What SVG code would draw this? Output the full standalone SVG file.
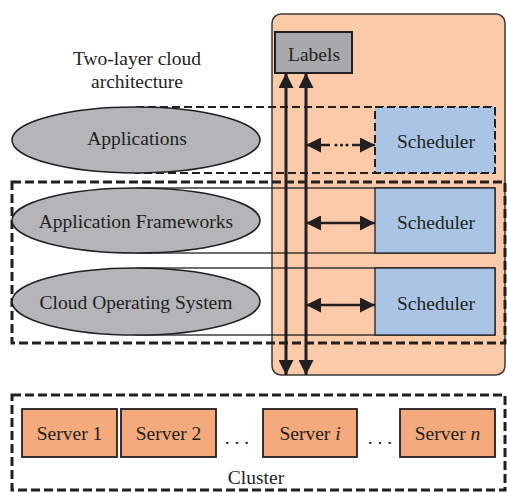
<svg xmlns="http://www.w3.org/2000/svg" width="507" height="493" viewBox="0 0 507 493">
<style>
text{font-family:"Liberation Serif","Times New Roman",serif;font-size:19.5px;fill:#231f20;text-anchor:middle}
.ell{fill:#b4b5b8;stroke:#231f20;stroke-width:1.5}
.row{fill:none;stroke:#231f20;stroke-width:1.3}
.sch{fill:#a9c4e5;stroke:#231f20;stroke-width:1.3}
.srv{fill:#f4aa7d;stroke:#231f20;stroke-width:1.8}
.dash{fill:none;stroke:#231f20;stroke-width:3;stroke-dasharray:9 4}
.dashthin{fill:none;stroke:#231f20;stroke-width:2;stroke-dasharray:8 4}
.arr{stroke:#231f20;stroke-width:3;fill:none}
.harr{stroke:#231f20;stroke-width:2.5;fill:none}
</style>
<defs>
<marker id="vh" viewBox="0 0 10 10" refX="10" refY="5" markerUnits="userSpaceOnUse" markerWidth="26" markerHeight="15" orient="auto-start-reverse">
<path d="M0,0 L10,5 L0,10 z" fill="#231f20"/>
</marker>
<marker id="hh" viewBox="0 0 10 10" refX="10" refY="5" markerUnits="userSpaceOnUse" markerWidth="22" markerHeight="15" orient="auto-start-reverse">
<path d="M0,0 L10,5 L0,10 z" fill="#231f20"/>
</marker>
</defs>
<g id="label-panel">
<rect x="272" y="14" width="233" height="361" rx="9" fill="#fbcaa8" stroke="#3a3a3a" stroke-width="1.5"/>
</g>
<g id="title">
<text x="137" y="65">Two-layer cloud</text>
<text x="137" y="88">architecture</text>
</g>
<g id="applications-layer">
<rect class="dashthin" x="136" y="107" width="359" height="66"/>
</g>
<g id="row-frameworks">
<rect class="row" x="136" y="188" width="359" height="65"/>
</g>
<g id="row-cos">
<rect class="row" x="136" y="268" width="359" height="67"/>
</g>
<g id="two-layer-box">
<rect class="dash" x="12" y="182" width="493" height="161"/>
</g>
<g id="scheduler-1">
<rect x="375" y="107" width="120" height="66" fill="#a9c4e5" stroke="#231f20" stroke-width="2" stroke-dasharray="8 4"/>
<text x="436" y="148">Scheduler</text>
</g>
<g id="scheduler-2">
<rect class="sch" x="375" y="188" width="120" height="65"/>
<text x="436" y="229">Scheduler</text>
</g>
<g id="scheduler-3">
<rect class="sch" x="375" y="268" width="120" height="67"/>
<text x="436" y="310">Scheduler</text>
</g>
<g id="applications">
<ellipse class="ell" cx="136" cy="140" rx="124" ry="33"/>
<text x="137" y="145">Applications</text>
</g>
<g id="application-frameworks">
<ellipse class="ell" cx="136" cy="220.5" rx="124" ry="32.5"/>
<text x="136" y="228">Application Frameworks</text>
</g>
<g id="cloud-os">
<ellipse class="ell" cx="136" cy="301.5" rx="124" ry="33.5"/>
<text x="136" y="309">Cloud Operating System</text>
</g>
<g id="labels">
<rect x="275" y="32" width="77" height="41" fill="#a8a9ac" stroke="#231f20" stroke-width="2"/>
<text x="314" y="61">Labels</text>
</g>
<g id="connectors">
<line class="arr" x1="286" y1="73" x2="286" y2="375" marker-start="url(#vh)" marker-end="url(#vh)"/>
<line class="arr" x1="306" y1="73" x2="306" y2="375" marker-start="url(#vh)" marker-end="url(#vh)"/>
<line class="harr" x1="330" y1="145" x2="306" y2="145" marker-end="url(#hh)"/>
<line class="harr" x1="352" y1="145" x2="375" y2="145" marker-end="url(#hh)"/>
<circle cx="336" cy="145" r="1.6" fill="#231f20"/>
<circle cx="341.5" cy="145" r="1.6" fill="#231f20"/>
<circle cx="347" cy="145" r="1.6" fill="#231f20"/>
<line class="harr" x1="306" y1="223" x2="375" y2="223" marker-start="url(#hh)" marker-end="url(#hh)"/>
<line class="harr" x1="306" y1="305" x2="375" y2="305" marker-start="url(#hh)" marker-end="url(#hh)"/>
</g>
<g id="cluster">
<rect class="dash" x="12" y="395" width="493" height="95"/>
<text x="256" y="484">Cluster</text>
</g>
<g id="server-1">
<rect class="srv" x="22" y="409" width="95" height="48"/>
<text x="69.5" y="440">Server 1</text>
</g>
<g id="server-2">
<rect class="srv" x="121" y="409" width="95" height="48"/>
<text x="168.5" y="440">Server 2</text>
</g>
<g id="server-i">
<rect class="srv" x="263" y="409" width="94" height="48"/>
<text x="310" y="440">Server <tspan font-style="italic">i</tspan></text>
</g>
<g id="server-n">
<rect class="srv" x="400" y="409" width="95" height="48"/>
<text x="447.5" y="440">Server <tspan font-style="italic">n</tspan></text>
</g>
<g id="ellipsis">
<text x="237" y="444">. . .</text>
<text x="380" y="444">. . .</text>
</g>
</svg>
